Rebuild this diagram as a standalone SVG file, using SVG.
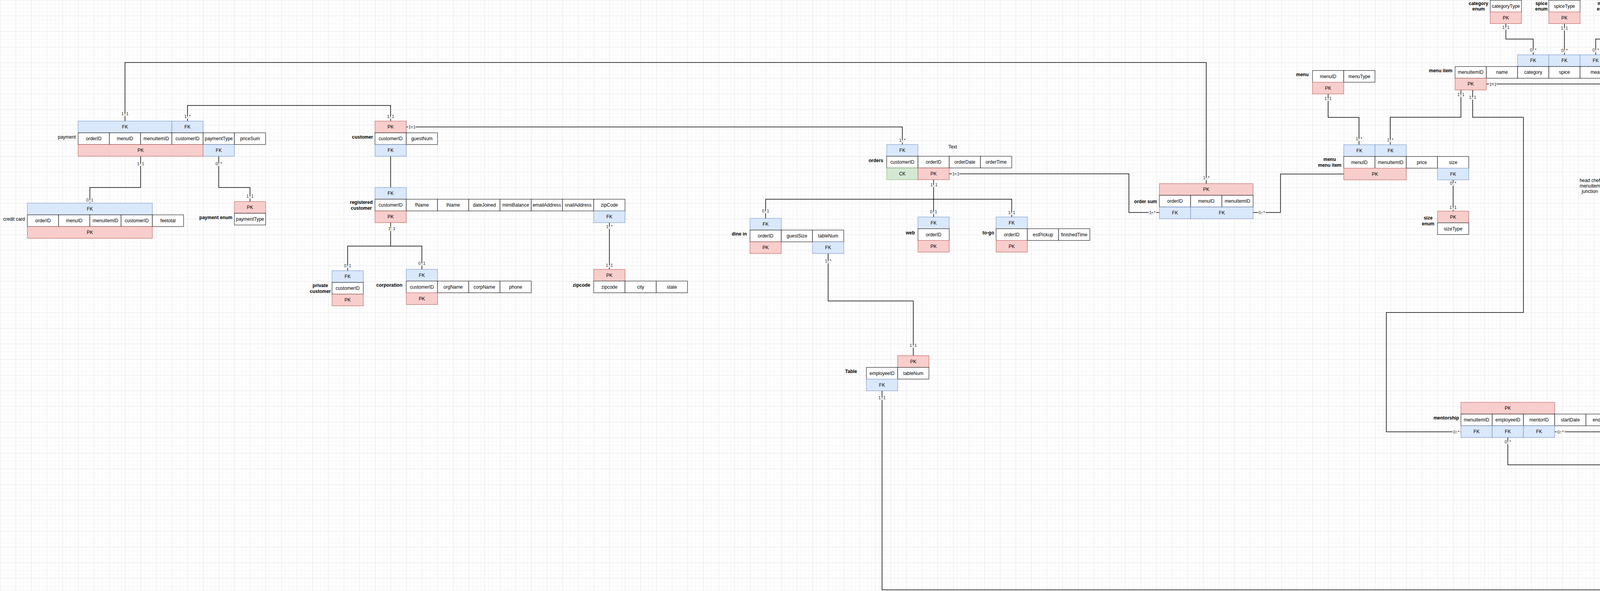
<svg xmlns="http://www.w3.org/2000/svg" width="6009" height="1513" viewBox="0 0 6009 1513">
<defs>
<pattern id="grid" width="40" height="40" patternUnits="userSpaceOnUse">
<path d="M10.5 0V40M20.5 0V40M30.5 0V40M0 10.5H40M0 20.5H40M0 30.5H40" stroke="#f4f4f4" stroke-width="1" fill="none"/>
<path d="M0.5 0V40M0 0.5H40" stroke="#e4e4e4" stroke-width="1" fill="none"/>
</pattern>
</defs>
<style>
.a{fill:#fff;stroke:#000;stroke-width:1}
.pk{fill:#f8cecc;stroke:#b85450;stroke-width:1}
.fk{fill:#dae8fc;stroke:#6c8ebf;stroke-width:1}
.ck{fill:#d5e8d4;stroke:#82b366;stroke-width:1}
text{font-family:"Liberation Sans",Arial,Helvetica,sans-serif;font-size:12px;fill:#000}
.c{text-anchor:middle;dominant-baseline:central}
.l{text-anchor:end;font-weight:bold;dominant-baseline:central}
.lr{text-anchor:end;dominant-baseline:central}
.lm{text-anchor:middle;font-weight:bold;dominant-baseline:central}
.lmr{text-anchor:middle;dominant-baseline:central}
.e{fill:none;stroke:#000;stroke-width:1.5}
.m{font-size:11px;text-anchor:middle;dominant-baseline:central;stroke:#fff;stroke-width:4;paint-order:stroke;fill:#222}
</style>
<rect width="6009" height="1513" fill="#fff"/>
<rect width="6009" height="1513" fill="url(#grid)"/>

<g id="connectors">
<path class="e" d="M320 310V160H3088V470"/>
<path class="e" d="M480 310V270H1000V310"/>
<path class="e" d="M360 400V480H230V520"/>
<path class="e" d="M560 400V480H640V516"/>
<path class="e" d="M1040 325H2310V370"/>
<path class="e" d="M1000 400V480"/>
<path class="e" d="M1000 570V630H890V693M1000 630H1080V689.5"/>
<path class="e" d="M1560 570V689.5"/>
<path class="e" d="M2390 460V555.5M1960 559V510H2590V555.5"/>
<path class="e" d="M2120 649V770.5H2338V910.5"/>
<path class="e" d="M2258 1000.5V1510H5270V899.5"/>
<path class="e" d="M2430 445H2890V544H2968"/>
<path class="e" d="M3208 544H3278V445.5H3440"/>
<path class="e" d="M3400 240.5V300.5H3479V370.5"/>
<path class="e" d="M3740 230.3V300.3H3559V370.5"/>
<path class="e" d="M3770 230.3V300.3H3900V800H3549V1105.5H3740"/>
<path class="e" d="M3805 215H4145V426.5"/>
<path class="e" d="M3855 60V100H3925V140.3"/>
<path class="e" d="M4005 60V140.3"/>
<path class="e" d="M4165 60V100H4085V140.3"/>
<path class="e" d="M3720 460.5V540.5"/>
<path class="e" d="M4225 426.5V350.5H4496V807.5"/>
<path class="e" d="M4730 900V960M4370 1030V960H4878V1030M4496 897.5V960"/>
<path class="e" d="M5270 670V809.5M4730 810V750H5970V810M5680 750V810"/>
<path class="e" d="M5300 670V700H5750V670"/>
<path class="e" d="M5140 500V655H5230"/>
<path class="e" d="M5590 500V580"/>
<path class="e" d="M5680 900V960M5590 1000V960H5780V1000"/>
<path class="e" d="M4330 1105.5H3980"/>
<path class="e" d="M4370 1120V1190H3860V1120"/>
<path class="e" d="M4878 1120V1272.5H4990"/>
<path class="e" d="M5110 1288.5V1415.5H4918"/>

<text class="m" x="320" y="291">1..1</text>
<text class="m" x="3088" y="455">1..*</text>
<text class="m" x="480" y="298">1..*</text>
<text class="m" x="1000" y="298">1..1</text>
<text class="m" x="360" y="419">1..1</text>
<text class="m" x="230" y="512">0..1</text>
<text class="m" x="560" y="419">0..*</text>
<text class="m" x="640" y="502">1..1</text>
<text class="m" x="1055" y="325">1..1</text>
<text class="m" x="2310" y="359">1..*</text>
<text class="m" x="1003" y="585">1..1</text>
<text class="m" x="890" y="680">0..1</text>
<text class="m" x="1080" y="674">0..1</text>
<text class="m" x="1560" y="580">1..*</text>
<text class="m" x="1560" y="679">1..1</text>
<text class="m" x="2391" y="473">1..1</text>
<text class="m" x="1960" y="540">0..1</text>
<text class="m" x="2390" y="542">0..1</text>
<text class="m" x="2590" y="544">1..1</text>
<text class="m" x="2120" y="668">1..*</text>
<text class="m" x="2338" y="884">1..1</text>
<text class="m" x="2258" y="1018">1..1</text>
<text class="m" x="5270" y="915">1..*</text>
<text class="m" x="2447" y="445">1..1</text>
<text class="m" x="2950" y="544">1..*</text>
<text class="m" x="3230" y="544">0..*</text>
<text class="m" x="3400" y="252">1..1</text>
<text class="m" x="3479" y="355">1..*</text>
<text class="m" x="3740" y="242">1..1</text>
<text class="m" x="3559" y="358">1..*</text>
<text class="m" x="3770" y="249">1..1</text>
<text class="m" x="3728" y="1105.5">0..*</text>
<text class="m" x="3822" y="216">1..1</text>
<text class="m" x="4145" y="411">1..*</text>
<text class="m" x="3855" y="70">1..1</text>
<text class="m" x="3925" y="128">0..*</text>
<text class="m" x="4005" y="72">1..1</text>
<text class="m" x="4005" y="129">0..*</text>
<text class="m" x="4165" y="72">1..1</text>
<text class="m" x="4085" y="128">0..*</text>
<text class="m" x="3720" y="469">0..*</text>
<text class="m" x="3720" y="531">1..1</text>
<text class="m" x="4225" y="408">0..*</text>
<text class="m" x="4496" y="781">1..1</text>
<text class="m" x="4730" y="911">1..1</text>
<text class="m" x="4496" y="912">0..1</text>
<text class="m" x="4370" y="1017">0..1</text>
<text class="m" x="4878" y="1022">0..1</text>
<text class="m" x="5270" y="684">1..1</text>
<text class="m" x="4730" y="797">0..1</text>
<text class="m" x="5270" y="797">0..1</text>
<text class="m" x="5680" y="798">0..1</text>
<text class="m" x="5970" y="797">0..1</text>
<text class="m" x="5300" y="684">0..1</text>
<text class="m" x="5750" y="682">0..*</text>
<text class="m" x="5140" y="513">1..*</text>
<text class="m" x="5217" y="655">1..1</text>
<text class="m" x="5590" y="511">1..1</text>
<text class="m" x="5590" y="569">0..*</text>
<text class="m" x="5680" y="911">1..1</text>
<text class="m" x="5590" y="986">0..1</text>
<text class="m" x="5780" y="988">0..1</text>
<text class="m" x="4315" y="1105.5">1..1</text>
<text class="m" x="3995" y="1105.5">0..*</text>
<text class="m" x="4370" y="1130">1..1</text>
<text class="m" x="3860" y="1131">0..*</text>
<text class="m" x="4878" y="1136">1..1</text>
<text class="m" x="4971" y="1272.5">0..*</text>
<text class="m" x="5110" y="1304">1..*</text>
<text class="m" x="4934" y="1415.5">1..1</text>
</g>

<g id="payment">
<rect class="fk" x="200" y="310" width="240" height="30"/><text class="c" x="320" y="325">FK</text>
<rect class="fk" x="440" y="310" width="80" height="30"/><text class="c" x="480" y="325">FK</text>
<rect class="a" x="200" y="340" width="80" height="30"/><text class="c" x="240" y="355">orderID</text>
<rect class="a" x="280" y="340" width="80" height="30"/><text class="c" x="320" y="355">menuID</text>
<rect class="a" x="360" y="340" width="80" height="30"/><text class="c" x="400" y="355">menuItemID</text>
<rect class="a" x="440" y="340" width="80" height="30"/><text class="c" x="480" y="355">customerID</text>
<rect class="a" x="520" y="340" width="80" height="30"/><text class="c" x="560" y="355">paymentType</text>
<rect class="a" x="600" y="340" width="80" height="30"/><text class="c" x="640" y="355">priceSum</text>
<rect class="pk" x="200" y="370" width="320" height="30"/><text class="c" x="360" y="385">PK</text>
<rect class="fk" x="520" y="370" width="80" height="30"/><text class="c" x="560" y="385">FK</text>
<text class="lr" x="194" y="351">payment</text>
</g>

<g id="credit-card">
<rect class="fk" x="70" y="520" width="320" height="30"/><text class="c" x="230" y="535">FK</text>
<rect class="a" x="70" y="550" width="80" height="30"/><text class="c" x="110" y="565">orderID</text>
<rect class="a" x="150" y="550" width="80" height="30"/><text class="c" x="190" y="565">menuID</text>
<rect class="a" x="230" y="550" width="80" height="30"/><text class="c" x="270" y="565">menuItemID</text>
<rect class="a" x="310" y="550" width="80" height="30"/><text class="c" x="350" y="565">customerID</text>
<rect class="a" x="390" y="550" width="80" height="30"/><text class="c" x="430" y="565">feetotal</text>
<rect class="pk" x="70" y="580" width="320" height="30"/><text class="c" x="230" y="595">PK</text>
<text class="lr" x="64" y="561">credit card</text>
</g>

<g id="payment-enum">
<rect class="pk" x="600" y="516" width="80" height="30"/><text class="c" x="640" y="531">PK</text>
<rect class="a" x="600" y="546" width="80" height="30"/><text class="c" x="640" y="561">paymentType</text>
<text class="l" x="595" y="557">payment enum</text>
</g>

<g id="customer">
<rect class="pk" x="960" y="310" width="80" height="30"/><text class="c" x="1000" y="325">PK</text>
<rect class="a" x="960" y="340" width="80" height="30"/><text class="c" x="1000" y="355">customerID</text>
<rect class="a" x="1040" y="340" width="80" height="30"/><text class="c" x="1080" y="355">guestNum</text>
<rect class="fk" x="960" y="370" width="80" height="30"/><text class="c" x="1000" y="385">FK</text>
<text class="l" x="955" y="351">customer</text>
</g>

<g id="registered-customer">
<rect class="fk" x="960" y="480" width="80" height="30"/><text class="c" x="1000" y="495">FK</text>
<rect class="a" x="960" y="510" width="80" height="30"/><text class="c" x="1000" y="525">customerID</text>
<rect class="a" x="1040" y="510" width="80" height="30"/><text class="c" x="1080" y="525">fName</text>
<rect class="a" x="1120" y="510" width="80" height="30"/><text class="c" x="1160" y="525">lName</text>
<rect class="a" x="1200" y="510" width="80" height="30"/><text class="c" x="1240" y="525">dateJoined</text>
<rect class="a" x="1280" y="510" width="80" height="30"/><text class="c" x="1320" y="525">mimiBalance</text>
<rect class="a" x="1360" y="510" width="80" height="30"/><text class="c" x="1400" y="525">emailAddress</text>
<rect class="a" x="1440" y="510" width="80" height="30"/><text class="c" x="1480" y="525">snailAddress</text>
<rect class="a" x="1520" y="510" width="80" height="30"/><text class="c" x="1560" y="525">zipCode</text>
<rect class="pk" x="960" y="540" width="80" height="30"/><text class="c" x="1000" y="555">PK</text>
<rect class="fk" x="1520" y="540" width="80" height="30"/><text class="c" x="1560" y="555">FK</text>
<text class="lm" x="925" y="518">registered</text>
<text class="lm" x="925" y="533">customer</text>
</g>

<g id="private-customer">
<rect class="fk" x="850" y="693" width="80" height="30"/><text class="c" x="890" y="708">FK</text>
<rect class="a" x="850" y="723" width="80" height="30"/><text class="c" x="890" y="738">customerID</text>
<rect class="pk" x="850" y="753" width="80" height="30"/><text class="c" x="890" y="768">PK</text>
<text class="lm" x="820" y="731">private</text>
<text class="lm" x="820" y="746">customer</text>
</g>

<g id="corporation">
<rect class="fk" x="1040" y="689.5" width="80" height="30"/><text class="c" x="1080" y="704.5">FK</text>
<rect class="a" x="1040" y="719.5" width="80" height="30"/><text class="c" x="1080" y="734.5">customerID</text>
<rect class="a" x="1120" y="719.5" width="80" height="30"/><text class="c" x="1160" y="734.5">orgName</text>
<rect class="a" x="1200" y="719.5" width="80" height="30"/><text class="c" x="1240" y="734.5">corpName</text>
<rect class="a" x="1280" y="719.5" width="80" height="30"/><text class="c" x="1320" y="734.5">phone</text>
<rect class="pk" x="1040" y="749.5" width="80" height="30"/><text class="c" x="1080" y="764.5">PK</text>
<text class="l" x="1030" y="730">corporation</text>
</g>

<g id="zipcode">
<rect class="pk" x="1520" y="689.5" width="80" height="30"/><text class="c" x="1560" y="704.5">PK</text>
<rect class="a" x="1520" y="719.5" width="80" height="30"/><text class="c" x="1560" y="734.5">zipcode</text>
<rect class="a" x="1600" y="719.5" width="80" height="30"/><text class="c" x="1640" y="734.5">city</text>
<rect class="a" x="1680" y="719.5" width="80" height="30"/><text class="c" x="1720" y="734.5">state</text>
<text class="l" x="1511" y="730">zipcode</text>
</g>

<g id="dine-in">
<rect class="fk" x="1920" y="559" width="80" height="30"/><text class="c" x="1960" y="574">FK</text>
<rect class="a" x="1920" y="589" width="80" height="30"/><text class="c" x="1960" y="604">orderID</text>
<rect class="a" x="2000" y="589" width="80" height="30"/><text class="c" x="2040" y="604">guestSize</text>
<rect class="a" x="2080" y="589" width="80" height="30"/><text class="c" x="2120" y="604">tableNum</text>
<rect class="pk" x="1920" y="619" width="80" height="30"/><text class="c" x="1960" y="634">PK</text>
<rect class="fk" x="2080" y="619" width="80" height="30"/><text class="c" x="2120" y="634">FK</text>
<text class="l" x="1912" y="599">dine in</text>
</g>

<g id="orders">
<rect class="fk" x="2270" y="370" width="80" height="30"/><text class="c" x="2310" y="385">FK</text>
<rect class="a" x="2270" y="400" width="80" height="30"/><text class="c" x="2310" y="415">customerID</text>
<rect class="a" x="2350" y="400" width="80" height="30"/><text class="c" x="2390" y="415">orderID</text>
<rect class="a" x="2430" y="400" width="80" height="30"/><text class="c" x="2470" y="415">orderDate</text>
<rect class="a" x="2510" y="400" width="80" height="30"/><text class="c" x="2550" y="415">orderTime</text>
<rect class="ck" x="2270" y="430" width="80" height="30"/><text class="c" x="2310" y="445">CK</text>
<rect class="pk" x="2350" y="430" width="80" height="30"/><text class="c" x="2390" y="445">PK</text>
<text class="l" x="2261" y="411">orders</text>
</g>

<g id="text-note">
<text class="lmr" x="2439" y="376">Text</text>
</g>

<g id="web">
<rect class="fk" x="2350" y="555.5" width="80" height="30"/><text class="c" x="2390" y="570.5">FK</text>
<rect class="a" x="2350" y="585.5" width="80" height="30"/><text class="c" x="2390" y="600.5">orderID</text>
<rect class="pk" x="2350" y="615.5" width="80" height="30"/><text class="c" x="2390" y="630.5">PK</text>
<text class="l" x="2342" y="596">web</text>
</g>

<g id="to-go">
<rect class="fk" x="2550" y="555.5" width="80" height="30"/><text class="c" x="2590" y="570.5">FK</text>
<rect class="a" x="2550" y="585.5" width="80" height="30"/><text class="c" x="2590" y="600.5">orderID</text>
<rect class="a" x="2630" y="585.5" width="80" height="30"/><text class="c" x="2670" y="600.5">estPickup</text>
<rect class="a" x="2710" y="585.5" width="80" height="30"/><text class="c" x="2750" y="600.5">finishedTime</text>
<rect class="pk" x="2550" y="615.5" width="80" height="30"/><text class="c" x="2590" y="630.5">PK</text>
<text class="l" x="2545" y="596">to-go</text>
</g>

<g id="table">
<rect class="pk" x="2298" y="910.5" width="80" height="30"/><text class="c" x="2338" y="925.5">PK</text>
<rect class="a" x="2218" y="940.5" width="80" height="30"/><text class="c" x="2258" y="955.5">employeeID</text>
<rect class="a" x="2298" y="940.5" width="80" height="30"/><text class="c" x="2338" y="955.5">tableNum</text>
<rect class="fk" x="2218" y="970.5" width="80" height="30"/><text class="c" x="2258" y="985.5">FK</text>
<text class="l" x="2194" y="951">Table</text>
</g>

<g id="order-sum">
<rect class="pk" x="2968" y="470" width="240" height="30"/><text class="c" x="3088" y="485">PK</text>
<rect class="a" x="2968" y="500" width="80" height="30"/><text class="c" x="3008" y="515">orderID</text>
<rect class="a" x="3048" y="500" width="80" height="30"/><text class="c" x="3088" y="515">menuID</text>
<rect class="a" x="3128" y="500" width="80" height="30"/><text class="c" x="3168" y="515">menuItemID</text>
<rect class="fk" x="2968" y="530" width="80" height="30"/><text class="c" x="3008" y="545">FK</text>
<rect class="fk" x="3048" y="530" width="160" height="30"/><text class="c" x="3128" y="545">FK</text>
<text class="l" x="2962" y="516">order sum</text>
</g>

<g id="menu">
<rect class="a" x="3360" y="180.5" width="80" height="30"/><text class="c" x="3400" y="195.5">menuID</text>
<rect class="a" x="3440" y="180.5" width="80" height="30"/><text class="c" x="3480" y="195.5">menuType</text>
<rect class="pk" x="3360" y="210.5" width="80" height="30"/><text class="c" x="3400" y="225.5">PK</text>
<text class="l" x="3350" y="191">menu</text>
</g>

<g id="menu-menu-item">
<rect class="fk" x="3440" y="370.5" width="80" height="30"/><text class="c" x="3480" y="385.5">FK</text>
<rect class="fk" x="3520" y="370.5" width="80" height="30"/><text class="c" x="3560" y="385.5">FK</text>
<rect class="a" x="3440" y="400.5" width="80" height="30"/><text class="c" x="3480" y="415.5">menuID</text>
<rect class="a" x="3520" y="400.5" width="80" height="30"/><text class="c" x="3560" y="415.5">menuItemID</text>
<rect class="a" x="3600" y="400.5" width="80" height="30"/><text class="c" x="3640" y="415.5">price</text>
<rect class="a" x="3680" y="400.5" width="80" height="30"/><text class="c" x="3720" y="415.5">size</text>
<rect class="pk" x="3440" y="430.5" width="160" height="30"/><text class="c" x="3520" y="445.5">PK</text>
<rect class="fk" x="3680" y="430.5" width="80" height="30"/><text class="c" x="3720" y="445.5">FK</text>
<text class="lm" x="3404" y="408">menu</text>
<text class="lm" x="3404" y="423">menu item</text>
</g>

<g id="size-enum">
<rect class="pk" x="3680" y="540.5" width="80" height="30"/><text class="c" x="3720" y="555.5">PK</text>
<rect class="a" x="3680" y="570.5" width="80" height="30"/><text class="c" x="3720" y="585.5">sizeType</text>
<text class="lm" x="3656" y="558">size</text>
<text class="lm" x="3656" y="573">enum</text>
</g>

<g id="menu-item">
<rect class="fk" x="3885" y="140.3" width="80" height="30"/><text class="c" x="3925" y="155.3">FK</text>
<rect class="fk" x="3965" y="140.3" width="80" height="30"/><text class="c" x="4005" y="155.3">FK</text>
<rect class="fk" x="4045" y="140.3" width="80" height="30"/><text class="c" x="4085" y="155.3">FK</text>
<rect class="a" x="3725" y="170.3" width="80" height="30"/><text class="c" x="3765" y="185.3">menuItemID</text>
<rect class="a" x="3805" y="170.3" width="80" height="30"/><text class="c" x="3845" y="185.3">name</text>
<rect class="a" x="3885" y="170.3" width="80" height="30"/><text class="c" x="3925" y="185.3">category</text>
<rect class="a" x="3965" y="170.3" width="80" height="30"/><text class="c" x="4005" y="185.3">spice</text>
<rect class="a" x="4045" y="170.3" width="80" height="30"/><text class="c" x="4085" y="185.3">meat</text>
<rect class="pk" x="3725" y="200.3" width="80" height="30"/><text class="c" x="3765" y="215.3">PK</text>
<text class="l" x="3718" y="181">menu item</text>
</g>

<g id="category-enum">
<rect class="a" x="3815" y="0.5" width="80" height="30"/><text class="c" x="3855" y="15.5">categoryType</text>
<rect class="pk" x="3815" y="30.5" width="80" height="30"/><text class="c" x="3855" y="45.5">PK</text>
<text class="lm" x="3785" y="9">category</text>
<text class="lm" x="3785" y="23">enum</text>
</g>

<g id="spice-enum">
<rect class="a" x="3965" y="0.5" width="80" height="30"/><text class="c" x="4005" y="15.5">spiceType</text>
<rect class="pk" x="3965" y="30.5" width="80" height="30"/><text class="c" x="4005" y="45.5">PK</text>
<text class="lm" x="3946" y="9">spice</text>
<text class="lm" x="3946" y="23">enum</text>
</g>

<g id="meat-enum">
<rect class="a" x="4125" y="0.5" width="80" height="30"/><text class="c" x="4165" y="15.5">meatType</text>
<rect class="pk" x="4125" y="30.5" width="80" height="30"/><text class="c" x="4165" y="45.5">PK</text>
<text class="lm" x="4104" y="9">meat</text>
<text class="lm" x="4104" y="23">enum</text>
</g>

<g id="head-chef-menuitem-junction">
<rect class="fk" x="4105" y="426.5" width="80" height="30"/><text class="c" x="4145" y="441.5">FK</text>
<rect class="fk" x="4185" y="426.5" width="80" height="30"/><text class="c" x="4225" y="441.5">FK</text>
<rect class="a" x="4105" y="456.5" width="80" height="30"/><text class="c" x="4145" y="471.5">menuItemID</text>
<rect class="a" x="4185" y="456.5" width="80" height="30"/><text class="c" x="4225" y="471.5">employeeID</text>
<rect class="pk" x="4105" y="486.5" width="160" height="30"/><text class="c" x="4185" y="501.5">PK</text>
<text class="lmr" x="4070" y="462">head chef</text>
<text class="lmr" x="4070" y="476">menuitem</text>
<text class="lmr" x="4070" y="490">junction</text>
</g>

<g id="head-chef">
<rect class="pk" x="4456" y="807.5" width="80" height="30"/><text class="c" x="4496" y="822.5">PK</text>
<rect class="a" x="4456" y="837.5" width="80" height="30"/><text class="c" x="4496" y="852.5">employeeID</text>
<rect class="fk" x="4456" y="867.5" width="80" height="30"/><text class="c" x="4496" y="882.5">FK</text>
<text class="lr" x="4451" y="849">head chef</text>
</g>

<g id="chef">
<rect class="fk" x="4690" y="810" width="80" height="30"/><text class="c" x="4730" y="825">FK</text>
<rect class="a" x="4690" y="840" width="80" height="30"/><text class="c" x="4730" y="855">employeeID</text>
<rect class="a" x="4770" y="840" width="80" height="30"/><text class="c" x="4810" y="855">experience</text>
<rect class="pk" x="4690" y="870" width="80" height="30"/><text class="c" x="4730" y="885">PK</text>
<text class="l" x="4684" y="851">chef</text>
</g>

<g id="sous-chef">
<rect class="fk" x="4330" y="1030" width="80" height="30"/><text class="c" x="4370" y="1045">FK</text>
<rect class="a" x="4330" y="1060" width="80" height="30"/><text class="c" x="4370" y="1075">employeeID</text>
<rect class="a" x="4410" y="1060" width="80" height="30"/><text class="c" x="4450" y="1075">menuExp</text>
<rect class="pk" x="4330" y="1090" width="80" height="30"/><text class="c" x="4370" y="1105">PK</text>
<text class="l" x="4322" y="1070">sous chef</text>
</g>

<g id="mentorship">
<rect class="pk" x="3740" y="1030" width="240" height="30"/><text class="c" x="3860" y="1045">PK</text>
<rect class="a" x="3740" y="1060" width="80" height="30"/><text class="c" x="3780" y="1075">menuItemID</text>
<rect class="a" x="3820" y="1060" width="80" height="30"/><text class="c" x="3860" y="1075">employeeID</text>
<rect class="a" x="3900" y="1060" width="80" height="30"/><text class="c" x="3940" y="1075">mentorID</text>
<rect class="a" x="3980" y="1060" width="80" height="30"/><text class="c" x="4020" y="1075">startDate</text>
<rect class="a" x="4060" y="1060" width="80" height="30"/><text class="c" x="4100" y="1075">endDate</text>
<rect class="fk" x="3740" y="1090" width="80" height="30"/><text class="c" x="3780" y="1105">FK</text>
<rect class="fk" x="3820" y="1090" width="80" height="30"/><text class="c" x="3860" y="1105">FK</text>
<rect class="fk" x="3900" y="1090" width="80" height="30"/><text class="c" x="3940" y="1105">FK</text>
<text class="l" x="3735" y="1070">mentorship</text>
</g>

<g id="line-cook">
<rect class="fk" x="4838" y="1030" width="80" height="30"/><text class="c" x="4878" y="1045">FK</text>
<rect class="a" x="4838" y="1060" width="80" height="30"/><text class="c" x="4878" y="1075">employeeID</text>
<rect class="pk" x="4838" y="1090" width="80" height="30"/><text class="c" x="4878" y="1105">PK</text>
<text class="lr" x="4825" y="1065">line cook</text>
</g>

<g id="linecook-station-junction">
<rect class="pk" x="4990" y="1198.5" width="160" height="30"/><text class="c" x="5070" y="1213.5">PK</text>
<rect class="a" x="4990" y="1228.5" width="80" height="30"/><text class="c" x="5030" y="1243.5">employeeID</text>
<rect class="a" x="5070" y="1228.5" width="80" height="30"/><text class="c" x="5110" y="1243.5">station</text>
<rect class="fk" x="4990" y="1258.5" width="80" height="30"/><text class="c" x="5030" y="1273.5">FK</text>
<rect class="fk" x="5070" y="1258.5" width="80" height="30"/><text class="c" x="5110" y="1273.5">FK</text>
<text class="lm" x="4960" y="1222">linecook</text>
<text class="lm" x="4960" y="1236">station</text>
<text class="lm" x="4960" y="1250">junction</text>
</g>

<g id="station">
<rect class="pk" x="4838" y="1400.5" width="80" height="30"/><text class="c" x="4878" y="1415.5">PK</text>
<rect class="a" x="4838" y="1430.5" width="80" height="30"/><text class="c" x="4878" y="1445.5">station</text>
<text class="l" x="4830" y="1440.5">station</text>
</g>

<g id="rates">
<rect class="pk" x="5100" y="410" width="80" height="30"/><text class="c" x="5140" y="425">PK</text>
<rect class="a" x="5100" y="440" width="80" height="30"/><text class="c" x="5140" y="455">employeeID</text>
<rect class="a" x="5180" y="440" width="80" height="30"/><text class="c" x="5220" y="455">type</text>
<rect class="a" x="5260" y="440" width="80" height="30"/><text class="c" x="5300" y="455">income</text>
<rect class="fk" x="5100" y="470" width="80" height="30"/><text class="c" x="5140" y="485">FK</text>
<text class="l" x="5094" y="451">rates</text>
</g>

<g id="benefit-enum">
<rect class="a" x="5550" y="440" width="80" height="30"/><text class="c" x="5590" y="455">benefitType</text>
<rect class="pk" x="5550" y="470" width="80" height="30"/><text class="c" x="5590" y="485">PK</text>
<text class="l" x="5546" y="452">benefit enum</text>
</g>

<g id="employees">
<rect class="fk" x="5550" y="580" width="80" height="30"/><text class="c" x="5590" y="595">FK</text>
<rect class="a" x="5230" y="610" width="80" height="30"/><text class="c" x="5270" y="625">employeeID</text>
<rect class="a" x="5310" y="610" width="80" height="30"/><text class="c" x="5350" y="625">fName</text>
<rect class="a" x="5390" y="610" width="80" height="30"/><text class="c" x="5430" y="625">lName</text>
<rect class="a" x="5470" y="610" width="80" height="30"/><text class="c" x="5510" y="625">DOB</text>
<rect class="a" x="5550" y="610" width="80" height="30"/><text class="c" x="5590" y="625">benefit</text>
<rect class="a" x="5630" y="610" width="80" height="30"/><text class="c" x="5670" y="625">shift</text>
<rect class="a" x="5710" y="610" width="80" height="30"/><text class="c" x="5750" y="625">managerID</text>
<rect class="pk" x="5230" y="640" width="80" height="30"/><text class="c" x="5270" y="655">PK</text>
<rect class="fk" x="5710" y="640" width="80" height="30"/><text class="c" x="5750" y="655">FK</text>
<text class="l" x="5224" y="621">employees</text>
</g>

<g id="waiting-staff">
<rect class="fk" x="5230" y="809.5" width="80" height="30"/><text class="c" x="5270" y="824.5">FK</text>
<rect class="a" x="5230" y="839.5" width="80" height="30"/><text class="c" x="5270" y="854.5">employeeID</text>
<rect class="a" x="5310" y="839.5" width="80" height="30"/><text class="c" x="5350" y="854.5">tipsRecieved</text>
<rect class="pk" x="5230" y="869.5" width="80" height="30"/><text class="c" x="5270" y="884.5">PK</text>
<text class="l" x="5222" y="850">waiting staff</text>
</g>

<g id="dishwasher">
<rect class="fk" x="5640" y="810" width="80" height="30"/><text class="c" x="5680" y="825">FK</text>
<rect class="a" x="5640" y="840" width="80" height="30"/><text class="c" x="5680" y="855">employeeID</text>
<rect class="a" x="5720" y="840" width="80" height="30"/><text class="c" x="5760" y="855">sinkStation</text>
<rect class="pk" x="5640" y="870" width="80" height="30"/><text class="c" x="5680" y="885">PK</text>
<text class="l" x="5631" y="851">dishwasher</text>
</g>

<g id="maitre-d">
<rect class="fk" x="5930" y="810" width="80" height="30"/><text class="c" x="5970" y="825">FK</text>
<rect class="a" x="5930" y="840" width="80" height="30"/><text class="c" x="5970" y="855">employeeID</text>
<rect class="pk" x="5930" y="870" width="80" height="30"/><text class="c" x="5970" y="885">PK</text>
<text class="l" x="5921" y="851">maitre'd</text>
</g>

<g id="sorter">
<rect class="fk" x="5550" y="1000" width="80" height="30"/><text class="c" x="5590" y="1015">FK</text>
<rect class="a" x="5550" y="1030" width="80" height="30"/><text class="c" x="5590" y="1045">employeeID</text>
<rect class="pk" x="5550" y="1060" width="80" height="30"/><text class="c" x="5590" y="1075">PK</text>
<text class="l" x="5541" y="1041">sorter</text>
</g>

<g id="washer">
<rect class="fk" x="5740" y="1000" width="80" height="30"/><text class="c" x="5780" y="1015">FK</text>
<rect class="a" x="5740" y="1030" width="80" height="30"/><text class="c" x="5780" y="1045">employeeID</text>
<rect class="pk" x="5740" y="1060" width="80" height="30"/><text class="c" x="5780" y="1075">PK</text>
<text class="l" x="5734" y="1041">washer</text>
</g>
</svg>
